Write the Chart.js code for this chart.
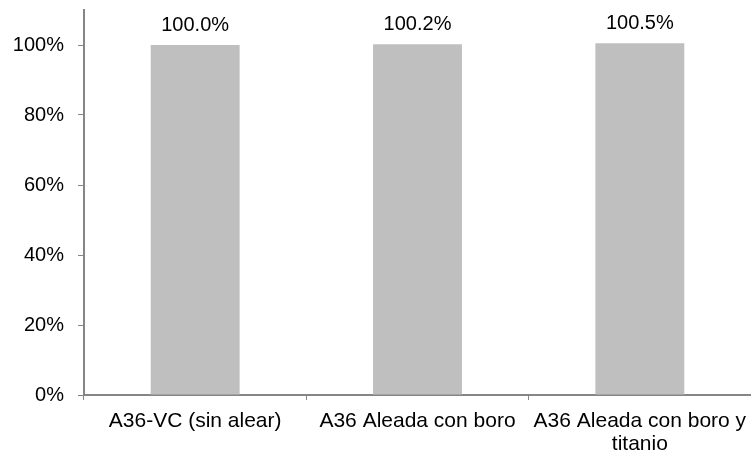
<!DOCTYPE html>
<html>
<head>
<meta charset="utf-8">
<script src="https://cdn.jsdelivr.net/npm/chart.js@4"></script>
<style>
  html, body { margin: 0; padding: 0; background: #fff; }
  #wrap { width: 751px; height: 456px; }
</style>
</head>
<body>
<div id="wrap"><canvas id="chart" width="751" height="456"></canvas></div>
<script>
// Chart data
const categories = ['A36-VC (sin alear)', 'A36 Aleada con boro', ['A36 Aleada con boro y', 'titanio']];
const values = [100.0, 100.2, 100.5];
const yTicks = [0, 20, 40, 60, 80, 100];

const axisColor = '#868686';
const barColor = '#BFBFBF';
const family = '"Liberation Sans", Arial, sans-serif';

// Value labels above bars
const valueLabels = {
  id: 'valueLabels',
  afterDatasetsDraw(chart) {
    const ctx = chart.ctx;
    const meta = chart.getDatasetMeta(0);
    ctx.save();
    ctx.font = '20px ' + family;
    ctx.fillStyle = '#000';
    ctx.textAlign = 'center';
    ctx.textBaseline = 'alphabetic';
    meta.data.forEach((bar, i) => {
      ctx.fillText(values[i].toFixed(1) + '%', bar.x, bar.y - 14);
    });
    ctx.restore();
  }
};

new Chart(document.getElementById('chart'), {
  type: 'bar',
  data: {
    labels: categories,
    datasets: [{
      data: values,
      backgroundColor: barColor,
      borderWidth: 0,
      categoryPercentage: 1,
      barPercentage: 0.4
    }]
  },
  options: {
    responsive: false,
    animation: false,
    layout: { padding: { top: 10, left: 0, right: 0, bottom: 0 } },
    plugins: {
      legend: { display: false },
      tooltip: { enabled: false }
    },
    scales: {
      x: {
        offset: true,
        border: { color: axisColor, width: 2 },
        grid: { offset: true, drawOnChartArea: false, drawTicks: true, tickLength: 5, color: axisColor, lineWidth: 1 },
        ticks: { color: '#000', font: { family: family, size: 21, lineHeight: 1.1 }, padding: 10, maxRotation: 0, minRotation: 0, autoSkip: false },
        afterFit(scale) {
          scale.height = 61;
          scale.paddingLeft = 0;
          scale.paddingRight = 0;
        }
      },
      y: {
        min: 0,
        max: 110,
        border: { color: axisColor, width: 2 },
        grid: { drawOnChartArea: false, drawTicks: true, tickLength: 6, color: axisColor, lineWidth: 1 },
        ticks: {
          color: '#000',
          font: { family: family, size: 20 },
          padding: 14,
          callback: v => v + '%'
        },
        afterBuildTicks(scale) {
          scale.ticks = yTicks.map(v => ({ value: v }));
        },
        afterFit(scale) {
          scale.width = 84;
          scale.paddingTop = 0;
          scale.paddingBottom = 0;
        }
      }
    }
  },
  plugins: [valueLabels]
});
</script>
</body>
</html>
